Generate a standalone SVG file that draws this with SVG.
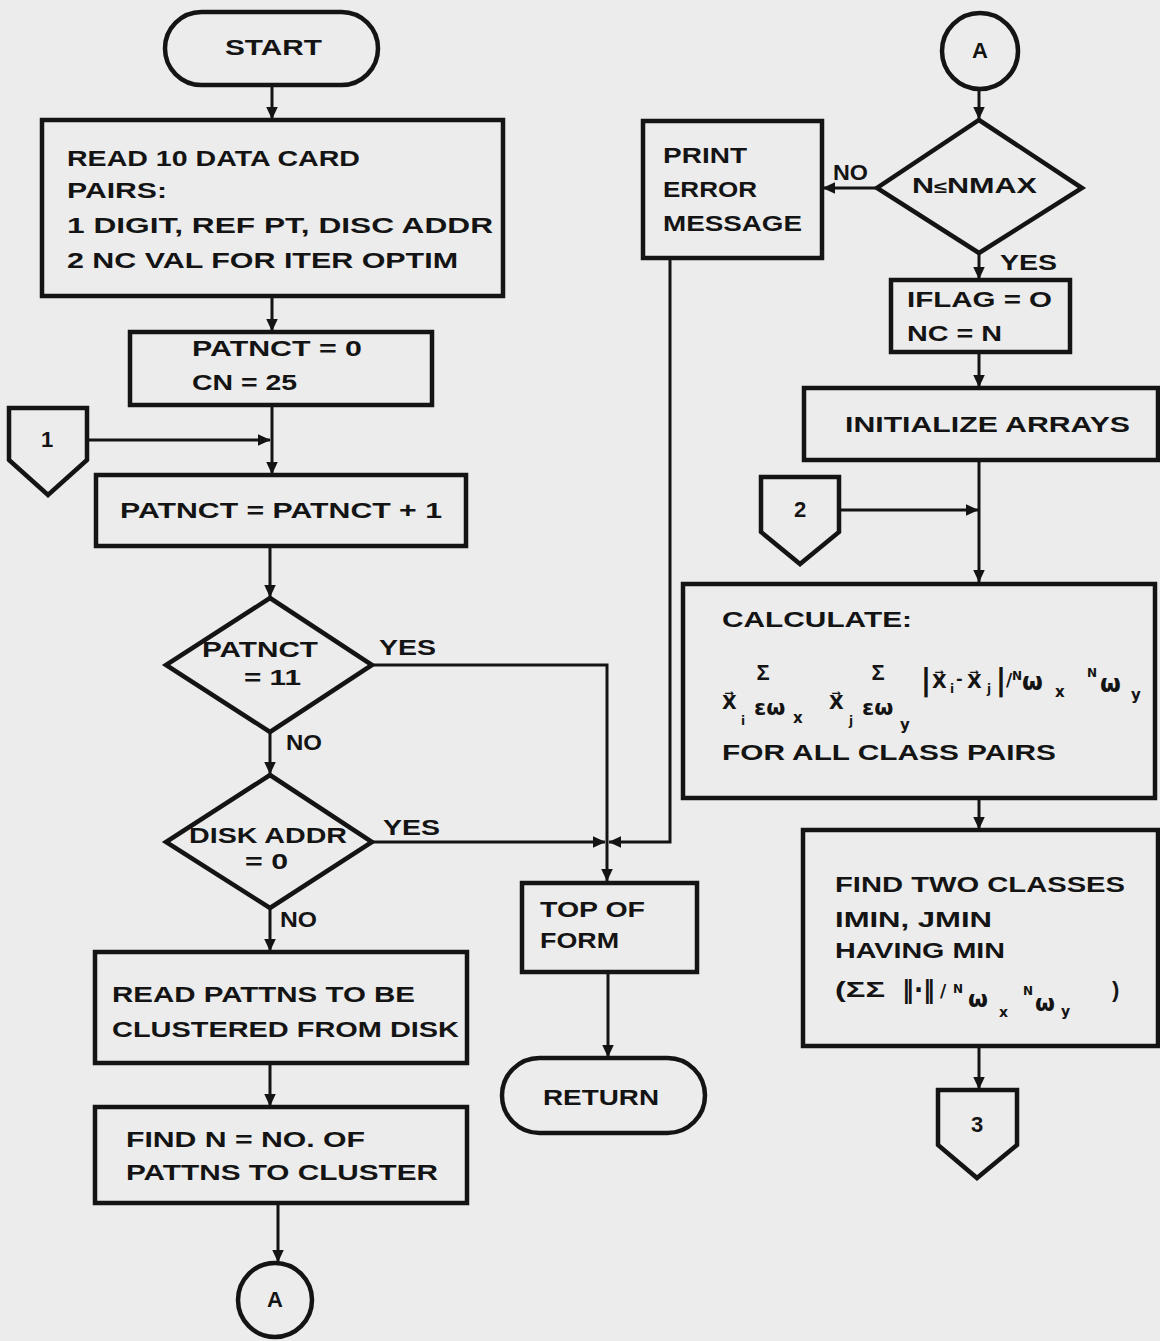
<svg xmlns="http://www.w3.org/2000/svg" width="1160" height="1341" viewBox="0 0 1160 1341">
<defs>
<style>
.bg{fill:#ececec}
.box{fill:none;stroke:#141414;stroke-width:4.5;stroke-linejoin:miter}
.ln{fill:none;stroke:#141414;stroke-width:3}
.t{font-family:"Liberation Sans",Arial,sans-serif;font-weight:bold;font-size:22px;fill:#141414}
.m{font-family:"DejaVu Sans","Liberation Sans",sans-serif;font-weight:bold;fill:#141414}
.c{text-anchor:middle}
</style>
<marker id="ah" viewBox="0 0 12 12" refX="11.5" refY="6" markerWidth="13" markerHeight="13" markerUnits="userSpaceOnUse" orient="auto">
<path d="M0,0.5 L12,6 L0,11.5 z" fill="#141414"/>
</marker>
</defs>
<rect class="bg" x="0" y="0" width="1160" height="1341"/>

<g id="connectors">
<line class="ln" x1="272" y1="85" x2="272" y2="119" marker-end="url(#ah)"/>
<line class="ln" x1="272" y1="296" x2="272" y2="331" marker-end="url(#ah)"/>
<line class="ln" x1="272" y1="405" x2="272" y2="474" marker-end="url(#ah)"/>
<line class="ln" x1="87" y1="440" x2="270" y2="440" marker-end="url(#ah)"/>
<line class="ln" x1="270" y1="546" x2="270" y2="597" marker-end="url(#ah)"/>
<path class="ln" d="M372,665 H607 V881" marker-end="url(#ah)"/>
<line class="ln" x1="270" y1="732" x2="270" y2="774" marker-end="url(#ah)"/>
<line class="ln" x1="372" y1="842" x2="605" y2="842" marker-end="url(#ah)"/>
<line class="ln" x1="270" y1="908" x2="270" y2="951" marker-end="url(#ah)"/>
<line class="ln" x1="270" y1="1063" x2="270" y2="1106" marker-end="url(#ah)"/>
<line class="ln" x1="278" y1="1203" x2="278" y2="1262" marker-end="url(#ah)"/>
<line class="ln" x1="979" y1="89" x2="979" y2="119" marker-end="url(#ah)"/>
<line class="ln" x1="877" y1="188" x2="823" y2="188" marker-end="url(#ah)"/>
<path class="ln" d="M670,258 V842 H609" marker-end="url(#ah)"/>
<line class="ln" x1="979" y1="253" x2="979" y2="279" marker-end="url(#ah)"/>
<line class="ln" x1="979" y1="352" x2="979" y2="387" marker-end="url(#ah)"/>
<line class="ln" x1="979" y1="460" x2="979" y2="582" marker-end="url(#ah)"/>
<line class="ln" x1="839" y1="510" x2="978" y2="510" marker-end="url(#ah)"/>
<line class="ln" x1="979" y1="798" x2="979" y2="829" marker-end="url(#ah)"/>
<line class="ln" x1="979" y1="1046" x2="979" y2="1089" marker-end="url(#ah)"/>
<line class="ln" x1="608" y1="972" x2="608" y2="1057" marker-end="url(#ah)"/>
<text class="t" x="379" y="655" textLength="57" lengthAdjust="spacingAndGlyphs">YES</text>
<text class="t" x="286" y="750" textLength="36" lengthAdjust="spacingAndGlyphs">NO</text>
<text class="t" x="383" y="835" textLength="57" lengthAdjust="spacingAndGlyphs">YES</text>
<text class="t" x="280" y="927" textLength="37" lengthAdjust="spacingAndGlyphs">NO</text>
<text class="t" x="833" y="180" textLength="35" lengthAdjust="spacingAndGlyphs">NO</text>
<text class="t" x="1000" y="270" textLength="57" lengthAdjust="spacingAndGlyphs">YES</text>
</g>

<g id="start">
<rect class="box" x="165" y="12" width="213" height="73" rx="36.5"/>
<text class="t" x="225" y="55" textLength="97" lengthAdjust="spacingAndGlyphs">START</text>
</g>

<g id="read-cards">
<rect class="box" x="42" y="120" width="461" height="176"/>
<text class="t" x="67" y="166" textLength="293" lengthAdjust="spacingAndGlyphs">READ 10 DATA CARD</text>
<text class="t" x="67" y="198" textLength="100" lengthAdjust="spacingAndGlyphs">PAIRS:</text>
<text class="t" x="67" y="233" textLength="426" lengthAdjust="spacingAndGlyphs">1  DIGIT, REF PT, DISC ADDR</text>
<text class="t" x="67" y="268" textLength="391" lengthAdjust="spacingAndGlyphs">2  NC VAL FOR ITER OPTIM</text>
</g>

<g id="init-patnct">
<rect class="box" x="130" y="332" width="302" height="73"/>
<text class="t" x="192" y="356" textLength="170" lengthAdjust="spacingAndGlyphs">PATNCT = 0</text>
<text class="t" x="192" y="390" textLength="105" lengthAdjust="spacingAndGlyphs">CN = 25</text>
</g>

<g id="conn-1">
<path class="box" d="M9,408 H87 V460 L48,495 L9,460 Z"/>
<text class="t c" x="47" y="447">1</text>
</g>

<g id="incr-patnct">
<rect class="box" x="96" y="475" width="370" height="71"/>
<text class="t" x="120" y="518" textLength="322" lengthAdjust="spacingAndGlyphs">PATNCT = PATNCT + 1</text>
</g>

<g id="dec-patnct">
<path class="box" d="M270,598 L372,665 L270,732 L166,665 Z"/>
<text class="t" x="202" y="657" textLength="116" lengthAdjust="spacingAndGlyphs">PATNCT</text>
<text class="t" x="244" y="685" textLength="57" lengthAdjust="spacingAndGlyphs">= 11</text>
</g>

<g id="dec-disk">
<path class="box" d="M270,775 L372,842 L270,908 L166,842 Z"/>
<text class="t" x="189" y="843" font-size="20" textLength="158" lengthAdjust="spacingAndGlyphs">DISK ADDR</text>
<text class="t" x="245" y="869" font-size="20" textLength="43" lengthAdjust="spacingAndGlyphs">= 0</text>
</g>

<g id="read-pattns">
<rect class="box" x="95" y="952" width="372" height="111"/>
<text class="t" x="112" y="1002" textLength="303" lengthAdjust="spacingAndGlyphs">READ PATTNS TO BE</text>
<text class="t" x="112" y="1037" textLength="347" lengthAdjust="spacingAndGlyphs">CLUSTERED FROM DISK</text>
</g>

<g id="find-n">
<rect class="box" x="95" y="1107" width="372" height="96"/>
<text class="t" x="126" y="1147" textLength="239" lengthAdjust="spacingAndGlyphs">FIND N = NO. OF</text>
<text class="t" x="126" y="1180" textLength="312" lengthAdjust="spacingAndGlyphs">PATTNS TO CLUSTER</text>
</g>

<g id="conn-a-out">
<circle class="box" cx="275" cy="1300" r="37"/>
<text class="t c" x="275" y="1307">A</text>
</g>

<g id="top-of-form">
<rect class="box" x="522" y="883" width="175" height="89"/>
<text class="t" x="540" y="917" textLength="105" lengthAdjust="spacingAndGlyphs">TOP OF</text>
<text class="t" x="540" y="948" textLength="79" lengthAdjust="spacingAndGlyphs">FORM</text>
</g>

<g id="return">
<rect class="box" x="502" y="1058" width="203" height="75" rx="37.5"/>
<text class="t" x="543" y="1105" textLength="116" lengthAdjust="spacingAndGlyphs">RETURN</text>
</g>

<g id="conn-a-in">
<circle class="box" cx="980" cy="51" r="38"/>
<text class="t c" x="980" y="58">A</text>
</g>

<g id="dec-nmax">
<path class="box" d="M979,120 L1082,188 L979,253 L877,188 Z"/>
<text class="t" x="912" y="193" textLength="125" lengthAdjust="spacingAndGlyphs">N<tspan font-size="17">≤</tspan>NMAX</text>
</g>

<g id="print-error">
<rect class="box" x="643" y="121" width="179" height="137"/>
<text class="t" x="663" y="163" textLength="84" lengthAdjust="spacingAndGlyphs">PRINT</text>
<text class="t" x="663" y="197" textLength="94" lengthAdjust="spacingAndGlyphs">ERROR</text>
<text class="t" x="663" y="231" textLength="139" lengthAdjust="spacingAndGlyphs">MESSAGE</text>
</g>

<g id="iflag">
<rect class="box" x="891" y="280" width="179" height="72"/>
<text class="t" x="907" y="307" textLength="145" lengthAdjust="spacingAndGlyphs">IFLAG = O</text>
<text class="t" x="907" y="341" textLength="95" lengthAdjust="spacingAndGlyphs">NC = N</text>
</g>

<g id="init-arrays">
<rect class="box" x="804" y="388" width="354" height="72"/>
<text class="t" x="845" y="432" textLength="285" lengthAdjust="spacingAndGlyphs">INITIALIZE ARRAYS</text>
</g>

<g id="conn-2">
<path class="box" d="M761,477 H839 V532 L800,564 L761,532 Z"/>
<text class="t c" x="800" y="517">2</text>
</g>

<g id="calculate">
<rect class="box" x="683" y="584" width="472" height="214"/>
<text class="t" x="722" y="627" textLength="190" lengthAdjust="spacingAndGlyphs">CALCULATE:</text>
<text class="t c" x="763" y="680" font-size="24">Σ</text>
<text class="t c" x="878" y="680" font-size="24">Σ</text>
<text class="m c" x="926" y="690" font-size="30">|</text>
<text class="m" x="932" y="688" font-size="19">X&#x20D7;</text>
<text class="m" x="950" y="693" font-size="12">i</text>
<text class="m" x="956" y="684" font-size="16">-</text>
<text class="m" x="967" y="688" font-size="19">X&#x20D7;</text>
<text class="m" x="987" y="693" font-size="12">j</text>
<text class="m c" x="1001" y="690" font-size="30">|</text>
<text class="m" x="1006" y="686" font-size="17">/</text>
<text class="m" x="1012" y="680" font-size="12">N</text>
<text class="m" x="1022" y="690" font-size="24">ω</text>
<text class="m" x="1055" y="697" font-size="15">x</text>
<text class="m" x="1087" y="677" font-size="12">N</text>
<text class="m" x="1100" y="692" font-size="24">ω</text>
<text class="m" x="1131" y="700" font-size="15">y</text>
<text class="m" x="722" y="709" font-size="19">X&#x20D7;</text>
<text class="m" x="741" y="725" font-size="12">i</text>
<text class="m" x="754" y="715" font-size="22">εω</text>
<text class="m" x="793" y="723" font-size="15">x</text>
<text class="m" x="829" y="709" font-size="19">X&#x20D7;</text>
<text class="m" x="849" y="725" font-size="12">j</text>
<text class="m" x="862" y="715" font-size="22">εω</text>
<text class="m" x="900" y="730" font-size="15">y</text>
<text class="t" x="722" y="760" textLength="334" lengthAdjust="spacingAndGlyphs">FOR ALL CLASS PAIRS</text>
</g>

<g id="find-two">
<rect class="box" x="803" y="830" width="355" height="216"/>
<text class="t" x="835" y="892" textLength="290" lengthAdjust="spacingAndGlyphs">FIND TWO CLASSES</text>
<text class="t" x="835" y="927" textLength="157" lengthAdjust="spacingAndGlyphs">IMIN, JMIN</text>
<text class="t" x="835" y="958" textLength="170" lengthAdjust="spacingAndGlyphs">HAVING MIN</text>
<text class="t" x="835" y="997" textLength="50" lengthAdjust="spacingAndGlyphs">(ΣΣ</text>
<text class="m" x="902" y="998" font-size="24">‖·‖</text>
<text class="m" x="940" y="997" font-size="17">/</text>
<text class="m" x="953" y="993" font-size="12">N</text>
<text class="m" x="968" y="1007" font-size="23">ω</text>
<text class="m" x="999" y="1017" font-size="14">x</text>
<text class="m" x="1023" y="995" font-size="12">N</text>
<text class="m" x="1035" y="1011" font-size="23">ω</text>
<text class="m" x="1061" y="1016" font-size="14">y</text>
<text class="t" x="1112" y="997">)</text>
</g>

<g id="conn-3">
<path class="box" d="M938,1090 H1017 V1145 L977,1178 L938,1145 Z"/>
<text class="t c" x="977" y="1132">3</text>
</g>
</svg>
